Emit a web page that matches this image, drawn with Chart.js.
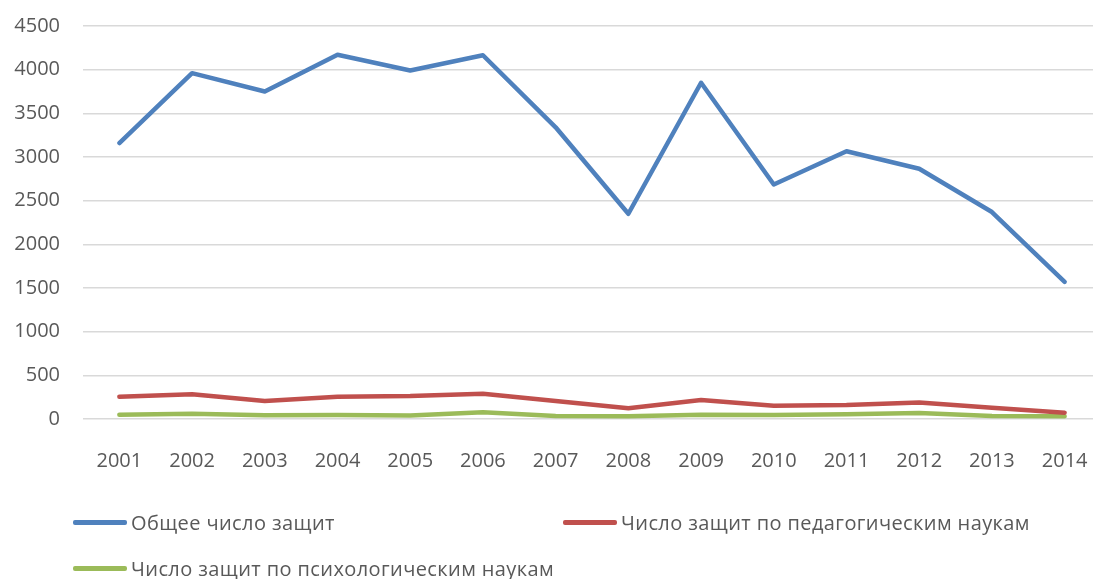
<!DOCTYPE html>
<html>
<head>
<meta charset="utf-8">
<script src="https://cdn.jsdelivr.net/npm/chart.js@4"></script>
<style>
html,body{margin:0;padding:0;background:#fff;overflow:hidden;width:1093px;height:579px;}
#wrap{position:absolute;left:0;top:0;width:1102px;height:579px;}
#legend{position:absolute;left:0;top:0;width:1093px;height:579px;pointer-events:none;font-family:"Open Sans",sans-serif;color:#595959;font-size:20px;letter-spacing:0.4px;}
.li{position:absolute;display:flex;align-items:center;white-space:nowrap;}
.sw{width:54px;height:5px;border-radius:2px;margin-right:4px;}
</style>
</head>
<body>
<div id="wrap"><canvas id="c"></canvas></div>
<div id="legend"></div>
<script>
const years = ['2001','2002','2003','2004','2005','2006','2007','2008','2009','2010','2011','2012','2013','2014'];
const totalDefenses = [3160, 3960, 3750, 4170, 3990, 4165, 3340, 2350, 3850, 2685, 3066, 2866, 2370, 1570];
const pedagogyDefenses = [255, 283, 206, 255, 263, 290, 205, 122, 218, 153, 160, 190, 130, 72];
const psychologyDefenses = [50, 60, 43, 45, 40, 77, 35, 32, 50, 45, 54, 68, 35, 32];
const seriesNames = ['Общее число защит', 'Число защит по педагогическим наукам', 'Число защит по психологическим наукам'];
const seriesColors = ['#4f81bd', '#c0504d', '#9bbb59'];

const mk = (i, data) => ({
  label: seriesNames[i], data: data,
  borderColor: seriesColors[i], backgroundColor: seriesColors[i],
  borderWidth: 4.5, pointRadius: 0, tension: 0,
  borderCapStyle: 'round', borderJoinStyle: 'round', fill: false
});

new Chart(document.getElementById('c'), {
  type: 'line',
  data: {
    labels: years,
    datasets: [mk(0, totalDefenses), mk(1, pedagogyDefenses), mk(2, psychologyDefenses)]
  },
  options: {
    responsive: true, maintainAspectRatio: false, animation: false,
    layout: { padding: { top: 26, right: 1, bottom: 76, left: 0 } },
    plugins: { legend: { display: false }, tooltip: { enabled: false } },
    scales: {
      x: {
        offset: true,
        grid: { display: false, drawTicks: false },
        border: { display: false },
        ticks: { color: '#595959', font: { family: 'Open Sans', size: 20 }, padding: 30, maxRotation: 0, autoSkip: false },
        afterFit: (s) => { s.paddingLeft = 0; s.paddingRight = 0; }
      },
      y: {
        min: 0, max: 4500,
        grid: { color: '#d9d9d9', lineWidth: 1.5, drawTicks: false },
        border: { display: false },
        ticks: { stepSize: 500, color: '#595959', font: { family: 'Open Sans', size: 20 }, padding: 23,
                 callback: (v) => String(v) },
        afterFit: (s) => { s.width = 83; s.paddingTop = 0; s.paddingBottom = 0; }
      }
    }
  }
});

const legend = document.getElementById('legend');
const pos = [[73, 522], [563, 522], [73, 568]];
seriesNames.forEach((n, i) => {
  const d = document.createElement('div');
  d.className = 'li';
  d.style.left = pos[i][0] + 'px';
  d.style.top = (pos[i][1] - 14) + 'px';
  d.style.height = '28px';
  d.innerHTML = '<span class="sw" style="background:' + seriesColors[i] + '"></span><span>' + n + '</span>';
  legend.appendChild(d);
});
</script>
</body>
</html>
